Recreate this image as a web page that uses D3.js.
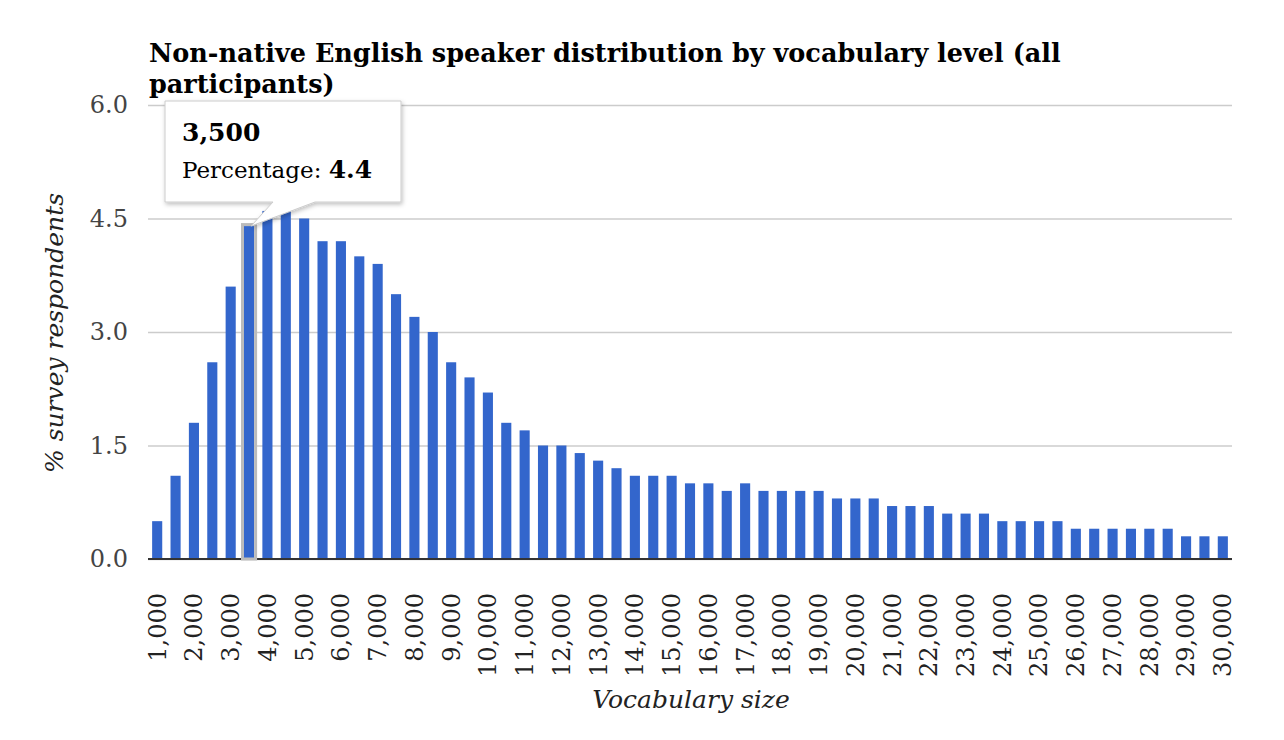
<!DOCTYPE html>
<html>
<head>
<meta charset="utf-8">
<script src="https://cdn.jsdelivr.net/npm/d3@7"></script>
<style>
  body { margin: 0; background: #fff; }
  svg text { font-family: Georgia, "DejaVu Serif", serif; }
</style>
</head>
<body>
<svg id="chart" width="1284" height="740"></svg>
<script>
// vocabulary size buckets (every 500 words)
var sizes = [1000,1500,2000,2500,3000,3500,4000,4500,5000,5500,6000,6500,7000,7500,8000,8500,9000,9500,
  10000,10500,11000,11500,12000,12500,13000,13500,14000,14500,15000,15500,16000,16500,17000,17500,18000,18500,
  19000,19500,20000,20500,21000,21500,22000,22500,23000,23500,24000,24500,25000,25500,26000,26500,27000,27500,
  28000,28500,29000,29500,30000];
// % of survey respondents
var percentage = [0.5,1.1,1.8,2.6,3.6,4.4,4.6,4.6,4.5,4.2,4.2,4.0,3.9,3.5,3.2,3.0,2.6,2.4,
  2.2,1.8,1.7,1.5,1.5,1.4,1.3,1.2,1.1,1.1,1.1,1.0,1.0,0.9,1.0,0.9,0.9,0.9,
  0.9,0.8,0.8,0.8,0.7,0.7,0.7,0.6,0.6,0.6,0.5,0.5,0.5,0.5,0.4,0.4,0.4,0.4,
  0.4,0.4,0.3,0.3,0.3];
var yTicks = [0, 1.5, 3.0, 4.5, 6.0];
var selectedSize = 3500;

var data = sizes.map((s,i) => ({size: s, value: percentage[i]}));

var svg = d3.select("#chart");
var mLeft = 148, mRight = 1232, mTop = 105, mBottom = 559;

var x = d3.scaleBand()
  .domain(sizes)
  .range([mLeft, mRight])
  .paddingInner(0.45)
  .paddingOuter(0.225);

var y = d3.scaleLinear().domain([0, 6]).range([mBottom, mTop]);

// title
var title = svg.append("text").attr("x", 149).attr("y", 62)
  .attr("font-weight", "bold").style("font-size", "25.5px").attr("fill", "#000");
title.append("tspan").attr("x", 149).text("Non-native English speaker distribution by vocabulary level (all");
title.append("tspan").attr("x", 149).attr("dy", 31).text("participants)");

// gridlines + y labels
var yAxis = svg.append("g").attr("transform", `translate(${mLeft},0)`)
  .call(d3.axisLeft(y).tickValues(yTicks).tickSize(-(mRight - mLeft)).tickFormat(d3.format(".1f")));
yAxis.select(".domain").remove();
yAxis.selectAll(".tick line").attr("stroke", "#ccc").attr("stroke-width", 1.5);
yAxis.selectAll(".tick text").attr("x", -20).attr("fill", "#444").style("font-size", "24px");

// bars
svg.append("g").selectAll("rect").data(data).join("rect")
  .attr("x", d => x(d.size))
  .attr("y", d => y(d.value))
  .attr("width", x.bandwidth())
  .attr("height", d => y(0) - y(d.value))
  .attr("fill", "#3366cc");

// baseline
svg.append("line").attr("x1", mLeft).attr("x2", mRight).attr("y1", y(0)).attr("y2", y(0))
  .attr("stroke", "#333").attr("stroke-width", 2);

// x axis labels
var xAxis = svg.append("g").attr("transform", `translate(0,${mBottom})`)
  .call(d3.axisBottom(x).tickValues(sizes.filter(s => s % 1000 == 0)).tickSize(0).tickFormat(d3.format(",")));
xAxis.select(".domain").remove();
xAxis.selectAll(".tick text")
  .attr("transform", "rotate(-90)")
  .attr("x", -34).attr("y", 0).attr("dy", "0.35em")
  .attr("text-anchor", "end")
  .attr("fill", "#222")
  .style("font-size", "24px");

// axis titles
svg.append("text").attr("x", 691).attr("y", 708)
  .attr("text-anchor", "middle").attr("font-style", "italic").attr("fill", "#222")
  .style("font-size", "25px").text("Vocabulary size");
svg.append("text").attr("transform", "translate(63,333) rotate(-90)")
  .attr("text-anchor", "middle").attr("font-style", "italic").attr("fill", "#222")
  .style("font-size", "25px").text("% survey respondents");

// highlighted bar + tooltip
var sel = data.find(d => d.size == selectedSize);
var bx = x(sel.size), bw = x.bandwidth();
svg.append("rect")
  .attr("x", bx - 1.5).attr("y", y(sel.value) - 1.5)
  .attr("width", bw + 3).attr("height", y(0) - y(sel.value) + 1.5)
  .attr("fill", "none").attr("stroke", "#bbb").attr("stroke-width", 3);

var defs = svg.append("defs");
var f = defs.append("filter").attr("id", "shadow").attr("x", "-10%").attr("y", "-10%").attr("width", "130%").attr("height", "140%");
f.append("feDropShadow").attr("dx", 1).attr("dy", 2).attr("stdDeviation", 2).attr("flood-color", "#000").attr("flood-opacity", 0.25);

var tip = svg.append("g");
var tx = 165, ty = 101, tw = 236, th = 101;
var tipX = bx + bw / 2 + 2, tipY = y(sel.value);
tip.append("path")
  .attr("d", `M${tx},${ty} H${tx + tw} V${ty + th} H${tx + 150} L${tipX},${tipY} L${tx + 108},${ty + th} H${tx} Z`)
  .attr("fill", "#fff").attr("stroke", "#ccc").attr("stroke-width", 1)
  .attr("filter", "url(#shadow)");
tip.append("text").attr("x", tx + 17).attr("y", ty + 40)
  .attr("font-weight", "bold").style("font-size", "25px").attr("fill", "#000")
  .text(d3.format(",")(sel.size));
var line2 = tip.append("text").attr("x", tx + 17).attr("y", ty + 77).style("font-size", "23px").attr("fill", "#000");
line2.append("tspan").text("Percentage: ");
line2.append("tspan").attr("font-weight", "bold").style("font-size", "25px").text(d3.format(".1f")(sel.value));
</script>
</body>
</html>
